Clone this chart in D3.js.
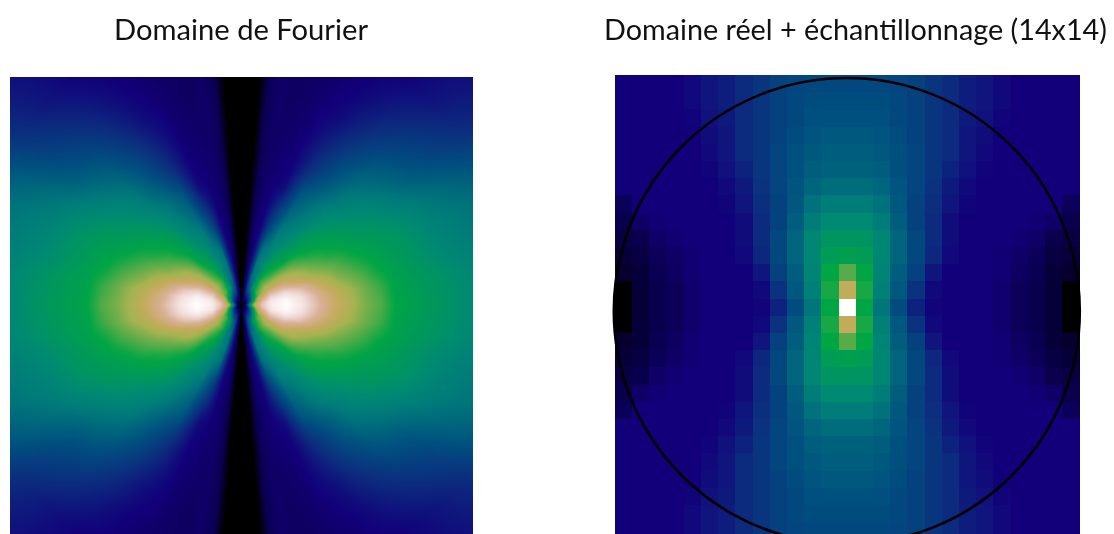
<!DOCTYPE html>
<html><head><meta charset="utf-8">
<script src="https://cdn.jsdelivr.net/npm/d3@7"></script>
<style>
html,body{margin:0;padding:0;background:#fff;width:1114px;height:534px;overflow:hidden}
#wrap{position:relative;width:1114px;height:534px;overflow:hidden}
canvas,svg{position:absolute;left:0;top:0}
text{font-family:Lato,"Open Sans",sans-serif;fill:#111}
</style></head><body><div id="wrap"></div>
<script>
const titles = ["Domaine de Fourier", "Domaine réel + échantillonnage (14x14)"];

// colour scale
const colourStops = [0, .08, .15, .25, .35, .45, .50, .58, .65, .72, .78, .85, .93, 1];
const colourValues = ["#000000","#08004c","#12007a","#0c2a7e","#00507f","#007a7a","#008a72","#00a544","#55ac48","#a5b350","#c6aa5e","#dab098","#f2dedc","#ffffff"];

// Fourier panel: level read along rays (angle from the horizontal) and rings (distance from centre)
const fourierAngles = [0, 8, 15, 24, 30, 38, 46, 54, 62, 70, 76, 80, 83, 85.5, 90];
const fourierRadii = [0, 4, 8, 12, 16, 20, 30, 45, 60, 80, 100, 125, 140, 155, 180, 210, 240, 280, 330];
const fourierLevels = [
 [0,.13,.48,.70,.81,.88,.96,1.0,.95,.85,.765,.68,.645,.575,.55,.52,.48,.42,.38],
 [0,.12,.44,.65,.78,.86,.95,.98,.93,.83,.75,.67,.625,.57,.545,.515,.48,.43,.38],
 [0,.10,.36,.57,.72,.82,.91,.93,.88,.78,.70,.635,.585,.56,.53,.49,.46,.42,.37],
 [0,.09,.30,.50,.66,.75,.85,.84,.77,.70,.65,.58,.56,.545,.52,.47,.44,.40,.35],
 [0,.08,.27,.46,.60,.68,.78,.78,.74,.66,.60,.56,.54,.53,.49,.44,.40,.35,.28],
 [0,.08,.24,.41,.56,.66,.72,.70,.67,.595,.565,.53,.51,.49,.44,.37,.32,.26,.21],
 [0,.07,.21,.37,.50,.60,.66,.615,.57,.55,.53,.49,.46,.44,.39,.33,.27,.20,.18],
 [0,.06,.18,.32,.43,.55,.59,.56,.54,.50,.47,.43,.39,.36,.32,.26,.21,.155,.14],
 [0,.06,.16,.28,.38,.43,.47,.50,.48,.46,.41,.36,.31,.27,.23,.18,.15,.13,.12],
 [0,.05,.13,.22,.30,.35,.42,.44,.42,.33,.27,.18,.16,.15,.14,.13,.12,.11,.11],
 [0,.04,.10,.15,.18,.20,.24,.22,.19,.16,.15,.14,.135,.13,.12,.11,.11,.10,.10],
 [0,.03,.07,.10,.12,.13,.13,.13,.13,.13,.12,.12,.12,.12,.12,.12,.12,.11,.11],
 [0,.02,.05,.07,.08,.08,.08,.08,.08,.08,.08,.08,.08,.08,.09,.09,.09,.09,.09],
 [0,0,0,0,0,0,0,0,0,0,0,0,0,0,0,0,0,0,0],
 [0,0,0,0,0,0,0,0,0,0,0,0,0,0,0,0,0,0,0]
];

// Real-space panel: upper-left quadrant, last row and column are the centre lines
const sampleLevels = [
 [.15,.15,.15,.15,.17,.20,.22,.25,.28,.31,.32,.33,.33,.33],
 [.15,.15,.15,.15,.17,.20,.22,.25,.28,.31,.33,.34,.34,.34],
 [.15,.15,.15,.15,.16,.19,.21,.25,.28,.31,.33,.35,.35,.35],
 [.15,.15,.15,.15,.15,.18,.20,.25,.28,.31,.34,.36,.37,.37],
 [.15,.15,.15,.15,.15,.17,.20,.25,.28,.32,.35,.37,.38,.38],
 [.15,.15,.15,.15,.15,.16,.19,.23,.28,.32,.35,.38,.39,.39],
 [.15,.15,.15,.15,.15,.15,.17,.21,.27,.32,.36,.40,.42,.42],
 [.10,.15,.15,.15,.15,.15,.16,.20,.26,.31,.37,.43,.46,.46],
 [.08,.12,.14,.15,.15,.15,.15,.18,.25,.31,.38,.46,.50,.50],
 [.07,.08,.12,.14,.15,.15,.15,.18,.25,.33,.40,.49,.53,.53],
 [.06,.07,.10,.12,.14,.15,.15,.17,.24,.33,.40,.49,.55,.56],
 [.05,.06,.09,.11,.14,.15,.15,.15,.20,.31,.38,.48,.58,.65],
 [0,.06,.08,.10,.13,.15,.15,.15,.17,.27,.37,.47,.60,.77],
 [0,.06,.08,.10,.13,.15,.15,.15,.16,.23,.34,.44,.58,1.0]
];

const colour = d3.scaleLinear().domain(colourStops).range(colourValues).interpolate(d3.interpolateRgb).clamp(true);

const wrap = d3.select("#wrap");

// ---- Fourier panel
const F = {x:10, y:77, w:463, h:457, cx:231.5, cy:228};
const canvas = wrap.append("canvas").attr("width",F.w).attr("height",F.h)
  .style("left",F.x+"px").style("top",F.y+"px");
const ctx = canvas.node().getContext("2d");
const img = ctx.createImageData(F.w,F.h);
const rIndex = d3.scaleLinear().domain(fourierRadii).range(d3.range(fourierRadii.length)).clamp(true);
const aIndex = d3.scaleLinear().domain(fourierAngles).range(d3.range(fourierAngles.length)).clamp(true);
for(let py=0;py<F.h;py++){
  for(let px=0;px<F.w;px++){
    const dx=Math.abs(px+.5-F.cx), dy=Math.abs(py+.5-F.cy);
    const r=Math.hypot(dx,dy), a=Math.atan2(dy,dx)*180/Math.PI;
    const ri=rIndex(r), ai=aIndex(a);
    const r0=Math.min(Math.floor(ri),fourierRadii.length-2), a0=Math.min(Math.floor(ai),fourierAngles.length-2);
    const fr=ri-r0, fa=ai-a0;
    const v=(fourierLevels[a0][r0]*(1-fr)+fourierLevels[a0][r0+1]*fr)*(1-fa)
           +(fourierLevels[a0+1][r0]*(1-fr)+fourierLevels[a0+1][r0+1]*fr)*fa;
    const c=d3.rgb(colour(v)), i=(py*F.w+px)*4;
    img.data[i]=c.r;img.data[i+1]=c.g;img.data[i+2]=c.b;img.data[i+3]=255;
  }
}
ctx.putImageData(img,0,0);

// ---- Real-space panel
const svg = wrap.append("svg").attr("width",1114).attr("height",534);
const n = sampleLevels.length;
const indices = d3.range(2*n-1);
const fold = i => i < n ? i : 2*n-2-i;
const cellsX = d3.scaleBand().domain(indices).range([615,1079.5]);
const cellsY = d3.scaleBand().domain(indices).range([75,539.5]);
const cellData = indices.flatMap(r => indices.map(c => ({r,c,v:sampleLevels[fold(r)][fold(c)]})));
svg.append("defs").append("clipPath").attr("id","realClip").append("rect")
  .attr("x",615).attr("y",75).attr("width",465).attr("height",459);
svg.append("g").attr("clip-path","url(#realClip)").append("g").style("filter","blur(0.5px)")
  .selectAll("rect").data(cellData).join("rect")
  .attr("x",d=>Math.round(cellsX(d.c))).attr("y",d=>Math.round(cellsY(d.r)))
  .attr("width",d=>Math.round(cellsX(d.c)+cellsX.bandwidth())-Math.round(cellsX(d.c)))
  .attr("height",d=>Math.round(cellsY(d.r)+cellsY.bandwidth())-Math.round(cellsY(d.r)))
  .attr("shape-rendering","crispEdges")
  .attr("fill",d=>colour(d.v));

svg.append("circle").attr("cx",846.8).attr("cy",311).attr("r",233)
  .attr("fill","none").attr("stroke","#000").attr("stroke-width",2.6);

svg.selectAll("text.title").data(titles).join("text").attr("class","title")
  .attr("x",(d,i)=>[241,855.5][i]).attr("y",40).attr("text-anchor","middle")
  .attr("textLength",(d,i)=>[254,503][i]).attr("lengthAdjust","spacingAndGlyphs")
  .style("font-size","29px").text(d=>d);
</script></body></html>
